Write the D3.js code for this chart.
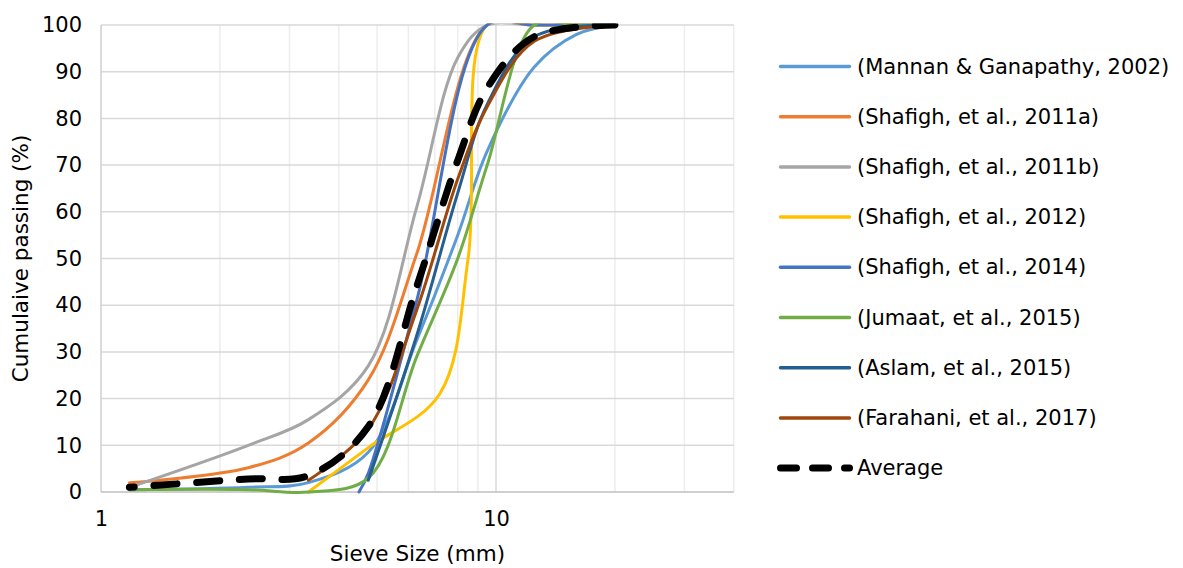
<!DOCTYPE html>
<html>
<head>
<meta charset="utf-8">
<script src="https://cdn.jsdelivr.net/npm/d3@7"></script>
<style>
  body { margin: 0; background: #fff; }
  svg { display: block; }
  text { font-family: "DejaVu Sans", Verdana, sans-serif; fill: #000; }
</style>
</head>
<body>
<svg id="chart" width="1183" height="568"></svg>
<script>
// Grading curves: [sieve size (mm), cumulative passing (%)]
const mannan2002   = [[1.18,0.5],[2.36,1],[3.35,2],[4.75,8.5],[6.3,32.5],[8,55],[9.5,73],[12.5,91],[16,98],[20,100]];
const shafigh2011a = [[1.18,2],[2.36,5.2],[3.35,10.5],[4.75,24],[6.3,51],[9.5,100],[12.5,100],[20,100]];
const shafigh2011b = [[1.18,1],[2.36,10],[3.35,15.5],[4.75,27],[6.3,61],[8,93],[9.5,100],[12.5,100],[20,100]];
const shafigh2012  = [[3.35,0],[4.75,9.5],[7.2,21],[8.5,50],[9.5,100],[12.5,100],[20,100]];
const shafigh2014  = [[4.5,0],[4.75,4],[6.3,41],[9.5,100],[12.5,100],[20,100]];
const jumaat2015   = [[1.18,0.5],[2.36,0.5],[3.35,0],[4.75,3],[6.3,29],[8,50],[9.5,70],[12.5,100],[16,100],[20,100]];
const aslam2015    = [[4.75,2.5],[6.3,33.5],[8,64],[9.5,83],[12.5,97.5],[20,100]];
const farahani2017 = [[3.35,2.5],[4.75,13.5],[6.3,39],[8,67],[9.5,82.5],[12.5,96.5],[20,100]];
const averageCurve = [[1.18,1],[2.36,2.8],[3.35,3.5],[4.75,14],[6.3,44],[8,71],[9.5,86.5],[12.5,97.5],[20,100]];

const seriesNames = [
  "(Mannan & Ganapathy, 2002)",
  "(Shafigh, et al., 2011a)",
  "(Shafigh, et al., 2011b)",
  "(Shafigh, et al., 2012)",
  "(Shafigh, et al., 2014)",
  "(Jumaat, et al., 2015)",
  "(Aslam, et al., 2015)",
  "(Farahani, et al., 2017)"
];
const seriesData = [mannan2002, shafigh2011a, shafigh2011b, shafigh2012, shafigh2014, jumaat2015, aslam2015, farahani2017];
const seriesColors = ["#5B9BD5", "#ED7D31", "#A5A5A5", "#FFC000", "#4472C4", "#70AD47", "#255E91", "#9E480E"];
const averageName = "Average";

const yTicks = [0, 10, 20, 30, 40, 50, 60, 70, 80, 90, 100];
const xTickLabels = [1, 10];
const xMajorGrid = [1, 10];
const xMinorGrid = [2, 3, 4, 5, 6, 7, 8, 9, 20, 30, 40];

const svg = d3.select("#chart");

const plot = { left: 101, right: 733.8, top: 25, bottom: 492 };
const x = d3.scaleLog().domain([1, 40]).range([plot.left, plot.right]);
const y = d3.scaleLinear().domain([0, 100]).range([plot.bottom, plot.top]);

// clip region for the plot area
svg.append("defs").append("clipPath").attr("id", "plotClip")
  .append("rect")
  .attr("x", plot.left).attr("y", plot.top - 1.5)
  .attr("width", plot.right - plot.left + 2)
  .attr("height", plot.bottom - plot.top + 4);

// gridlines
const grid = svg.append("g");
grid.selectAll("line.vminor").data(xMinorGrid).join("line")
  .attr("x1", d => x(d)).attr("x2", d => x(d))
  .attr("y1", plot.top).attr("y2", plot.bottom)
  .attr("stroke", "#EDEDED").attr("stroke-width", 1.5);
grid.selectAll("line.h").data(yTicks.filter(d => d > 0)).join("line")
  .attr("x1", plot.left).attr("x2", plot.right)
  .attr("y1", d => y(d)).attr("y2", d => y(d))
  .attr("stroke", "#D9D9D9").attr("stroke-width", 1.5);
grid.selectAll("line.vmajor").data(xMajorGrid).join("line")
  .attr("x1", d => x(d)).attr("x2", d => x(d))
  .attr("y1", plot.top).attr("y2", plot.bottom)
  .attr("stroke", d => d === 1 ? "#CFCFCF" : "#D9D9D9").attr("stroke-width", 1.5);

// horizontal axis line
svg.append("line")
  .attr("x1", plot.left).attr("x2", plot.right)
  .attr("y1", y(0)).attr("y2", y(0))
  .attr("stroke", "#BFBFBF").attr("stroke-width", 1.5);

// axes (labels only)
const yAxis = d3.axisLeft(y).tickValues(yTicks).tickSize(0).tickPadding(19);
svg.append("g").attr("transform", `translate(${plot.left},0)`).call(yAxis)
  .call(g => g.select(".domain").remove())
  .selectAll("text").style("font-size", "21px").attr("fill", "#000")
  .attr("font-family", "DejaVu Sans, Verdana, sans-serif");

const xAxis = d3.axisBottom(x).tickValues(xTickLabels).tickFormat(d3.format("d")).tickSize(0).tickPadding(19);
svg.append("g").attr("transform", `translate(0,${plot.bottom})`).call(xAxis)
  .call(g => g.select(".domain").remove())
  .selectAll("text").style("font-size", "21px").attr("fill", "#000")
  .attr("font-family", "DejaVu Sans, Verdana, sans-serif");

// axis titles
svg.append("text")
  .attr("x", (plot.left + plot.right) / 2).attr("y", 553)
  .attr("text-anchor", "middle").attr("dominant-baseline", "central")
  .style("font-size", "21.5px").text("Sieve Size (mm)");
svg.append("text")
  .attr("transform", `translate(20,${(plot.top + plot.bottom) / 2}) rotate(-90)`)
  .attr("text-anchor", "middle").attr("dominant-baseline", "central")
  .style("font-size", "21.5px").text("Cumulaive passing (%)");

// curves, smoothed through the measured points
const line = d3.line()
  .x(d => x(d[0])).y(d => y(d[1]))
  .curve(d3.curveCatmullRom.alpha(0.5));

const curves = svg.append("g").attr("clip-path", "url(#plotClip)");
curves.selectAll("path.series").data(seriesData).join("path")
  .attr("class", "series")
  .attr("d", d => line(d))
  .attr("fill", "none")
  .attr("stroke", (d, i) => seriesColors[i])
  .attr("stroke-width", 3)
  .attr("stroke-linejoin", "round")
  .attr("stroke-linecap", "round");

curves.append("path")
  .attr("d", line(averageCurve))
  .attr("fill", "none")
  .attr("stroke", "#000")
  .attr("stroke-width", 7)
  .attr("stroke-linecap", "round")
  .attr("stroke-linejoin", "round")
  .attr("stroke-dasharray", "23,19.7")
  .attr("stroke-dashoffset", 18);

// legend
const legend = svg.append("g");
const legendRowY = i => 66.5 + 50.2 * i;
const legendItems = legend.selectAll("g.item").data(seriesNames).join("g")
  .attr("transform", (d, i) => `translate(0,${legendRowY(i)})`);
legendItems.append("line")
  .attr("x1", 780.5).attr("x2", 849.5).attr("y1", 0).attr("y2", 0)
  .attr("stroke", (d, i) => seriesColors[i])
  .attr("stroke-width", 3.5)
  .attr("stroke-linecap", "round");
legendItems.append("text")
  .attr("x", 857).attr("y", 0)
  .attr("dominant-baseline", "central")
  .style("font-size", "21px")
  .text(d => d);

const avgItem = legend.append("g").attr("transform", `translate(0,${legendRowY(seriesNames.length)})`);
avgItem.append("line")
  .attr("x1", 780.5).attr("x2", 849.5).attr("y1", 0).attr("y2", 0)
  .attr("stroke", "#000").attr("stroke-width", 7)
  .attr("stroke-linecap", "round")
  .attr("stroke-dasharray", "16,16");
avgItem.append("text")
  .attr("x", 857).attr("y", 0)
  .attr("dominant-baseline", "central")
  .style("font-size", "21px")
  .text(averageName);
</script>
</body>
</html>
